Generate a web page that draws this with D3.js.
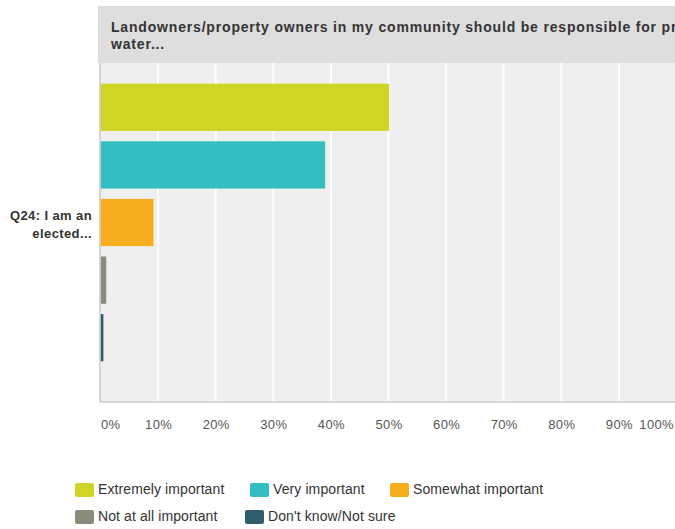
<!DOCTYPE html>
<html>
<head>
<meta charset="utf-8">
<script src="https://cdn.jsdelivr.net/npm/d3@7"></script>
<style>
  html, body { margin: 0; padding: 0; background: #fff; }
  svg { display: block; font-family: "Liberation Sans", Arial, sans-serif; }
</style>
</head>
<body>
<svg id="chart" width="675" height="529"></svg>
<script>
// ---- data ----
const titleLines = ["Landowners/property owners in my community should be responsible for protecting", "water..."];
const groupLabel = ["Q24: I am an", "elected..."];
const seriesNames = ["Extremely important", "Very important", "Somewhat important", "Not at all important", "Don't know/Not sure"];
const seriesValues = [50.1, 39.0, 9.2, 1.0, 0.5];
const seriesColors = ["#d0d424", "#33bec1", "#f6ae1f", "#8b8b7b", "#2e5e6e"];
const tickValues = [0, 10, 20, 30, 40, 50, 60, 70, 80, 90, 100];
const tickLabels = ["0%", "10%", "20%", "30%", "40%", "50%", "60%", "70%", "80%", "90%", "100%"];

// ---- layout ----
const svg = d3.select("#chart");
const plotTop = 63, plotBottom = 401, plotLeft = 100.5, plotRight = 676.5;

const x = d3.scaleLinear().domain([0, 100]).range([plotLeft, plotRight]);
const y = d3.scaleBand().domain(seriesNames).range([78.5, 366.5]).paddingInner(0.18).paddingOuter(0.09);

// header
svg.append("rect").attr("x", 98).attr("y", 6).attr("width", 600).attr("height", 57).attr("fill", "#dedede");
const clip = svg.append("defs").append("clipPath").attr("id", "hdrclip");
clip.append("rect").attr("x", 98).attr("y", 6).attr("width", 577).attr("height", 57);
svg.append("text").attr("x", 111).attr("y", 32).attr("fill", "#333").attr("clip-path", "url(#hdrclip)")
  .style("font-size", "14px").style("font-weight", "bold").style("letter-spacing", "0.82px")
  .selectAll("tspan").data(titleLines).join("tspan")
  .attr("x", 111).attr("dy", (d, i) => i === 0 ? 0 : 17).text(d => d);

// plot background
svg.append("rect").attr("x", plotLeft).attr("y", plotTop).attr("width", 600).attr("height", plotBottom - plotTop).attr("fill", "#efefef");

// gridlines
svg.append("g").selectAll("line").data(tickValues.slice(1)).join("line")
  .attr("x1", d => x(d)).attr("x2", d => x(d))
  .attr("y1", plotTop).attr("y2", plotBottom)
  .attr("stroke", "#fff").attr("stroke-width", 2);

// bars
svg.append("g").selectAll("rect").data(seriesNames).join("rect")
  .attr("x", x(0))
  .attr("y", d => y(d))
  .attr("width", (d, i) => x(seriesValues[i]) - x(0))
  .attr("height", y.bandwidth())
  .attr("fill", (d, i) => seriesColors[i]);

// axis lines
svg.append("line").attr("x1", 100).attr("x2", 100).attr("y1", plotTop).attr("y2", plotBottom + 1).attr("stroke", "#c8c8c8").attr("stroke-width", 1.5);
svg.append("line").attr("x1", 100).attr("x2", 675).attr("y1", plotBottom + 1).attr("y2", plotBottom + 1).attr("stroke", "#d8d8d8").attr("stroke-width", 2);

// x axis
const xAxis = d3.axisBottom(x).tickValues(tickValues).tickFormat((d, i) => tickLabels[i]).tickSize(0).tickPadding(0);
const gx = svg.append("g").attr("transform", `translate(0, ${plotBottom + 28})`).call(xAxis);
gx.select(".domain").remove();
gx.selectAll("text").attr("fill", "#555").style("font-size", "13px").style("letter-spacing", "0.35px")
  .style("font-family", "Liberation Sans, Arial, sans-serif")
  .attr("dy", 0)
  .attr("text-anchor", (d, i) => i === 0 ? "start" : (i === tickValues.length - 1 ? "end" : "middle"))
  .attr("dx", (d, i) => i === tickValues.length - 1 ? -3 : 0);

// group label
const midY = y(seriesNames[2]) + y.bandwidth() / 2;
svg.append("text").attr("text-anchor", "end").attr("fill", "#333")
  .style("font-size", "13px").style("font-weight", "bold").style("letter-spacing", "0.4px")
  .selectAll("tspan").data(groupLabel).join("tspan")
  .attr("x", 92).attr("y", (d, i) => midY - 3 + i * 18).text(d => d);

// legend
const legendPos = [[75, 483], [250, 483], [390, 483], [75, 510], [245, 510]];
const lg = svg.append("g").selectAll("g").data(seriesNames).join("g")
  .attr("transform", (d, i) => `translate(${legendPos[i][0]}, ${legendPos[i][1]})`);
lg.append("rect").attr("width", 19).attr("height", 14).attr("rx", 2).attr("fill", (d, i) => seriesColors[i]);
lg.append("text").attr("x", 23).attr("y", 11).attr("fill", "#333").style("font-size", "14px").style("letter-spacing", "0.1px").text(d => d);
</script>
</body>
</html>
